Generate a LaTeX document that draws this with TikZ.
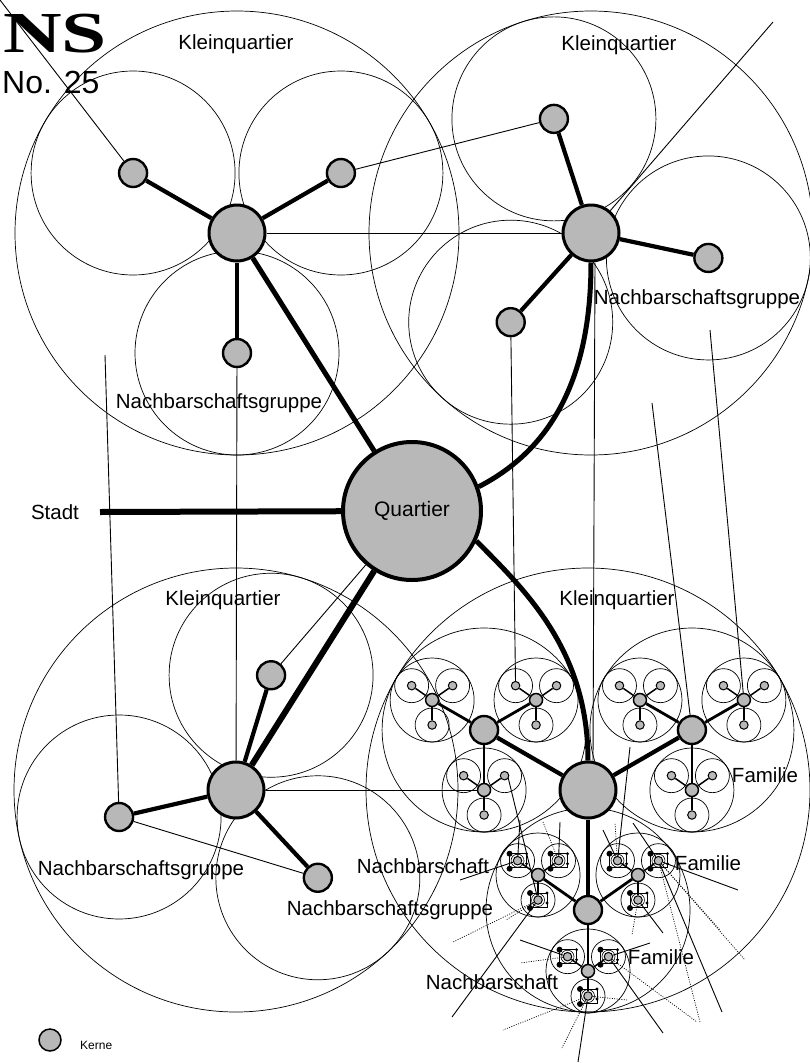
\documentclass[tikz,border=0pt]{standalone}
\usepackage{fontspec}
\setmainfont{Liberation Sans}
\newfontfamily\nsserif{Liberation Serif}
\usetikzlibrary{calc}
\pgfdeclarelayer{bg}
\pgfsetlayers{bg,main}
\definecolor{kern}{gray}{0.72}
\begin{document}
\begin{tikzpicture}[x=1pt,y=-1pt,
  ring/.style={line width=0.7pt},
  link/.style={line width=0.9pt},
  dotl/.style={line width=0.7pt,dash pattern=on 1pt off 1.4pt},
  kq/.style={circle,draw,fill=kern,inner sep=0pt,line width=4pt,minimum size=138pt},
  k1/.style={circle,draw,fill=kern,inner sep=0pt,line width=3pt,minimum size=56pt},
  k2/.style={circle,draw,fill=kern,inner sep=0pt,line width=2.4pt,minimum size=28pt},
  k3/.style={circle,draw,fill=kern,inner sep=0pt,line width=1.5pt,minimum size=13pt},
  k4/.style={circle,draw,fill=kern,inner sep=0pt,line width=1pt,minimum size=8.5pt},
  lab/.style={inner sep=0pt,font=\fontsize{20.5}{24}\selectfont},
  hw/.style={line width=6pt},
  qw/.style={line width=5pt},
  sw/.style={line width=4.2pt},
  mw/.style={line width=2.8pt},
  fw/.style={line width=1.5pt}
]
\useasboundingbox (0,0) rectangle (809,1063);

% ---------- nodes ----------
\node[kq,font=\fontsize{21}{24}\selectfont] (Q) at (412,511) {Quartier};
\node[k1] (TL) at (237,233) {};
\node[k1] (TR) at (591,233) {};
\node[k1] (BL) at (236,790) {};
\node[k1] (BR) at (588,790) {};
\foreach \h/\a/\b/\c in {TL/210/330/90, TR/252/12/132, BL/287/167/47, BR/210/330/90}{
  \node[k2] (\h a) at ($(\h)+(\a:120)$) {};
  \node[k2] (\h b) at ($(\h)+(\b:120)$) {};
  \node[k2] (\h c) at ($(\h)+(\c:120)$) {};
}
\foreach \g/\p/\q/\d in {BRa/210/330/60, BRb/210/330/60, BRc/215/325/61}{
  \foreach \a/\s in {\p/a,\q/b,90/c}{
    \node[k3] (\g\s) at ($(\g)+(\a:\d)$) {};
    \foreach \b/\t in {215/a,325/b,90/c}{
      \node[k4] (\g\s\t) at ($(\g\s)+(\b:25)$) {};
    }
  }
}

% free ends
\coordinate (st) at (100,512);
\coordinate (fe1) at (0,0);
\coordinate (fe2) at (773,22);
\coordinate (fe3) at (105,355);
\coordinate (fe4) at (652,403);
\coordinate (fe5) at (710,330);

\begin{pgfonlayer}{bg}
\fill[white] (0,0) rectangle (809,1063);
% big Kleinquartier circles
\foreach \h in {TL,TR,BL,BR}{
  \draw[ring] (\h) circle[radius=222pt];
  \foreach \s in {a,b,c}{
    \draw[ring] (\h\s) circle[radius=102pt];
    \draw[sw] (\h) -- (\h\s);
  }
}
% Nachbarschaften and Familien
\foreach \g in {BRa,BRb,BRc}{
  \foreach \s in {a,b,c}{
    \draw[ring] (\g\s) circle[radius=42pt];
    \draw[mw] (\g) -- (\g\s);
    \foreach \t in {a,b,c}{
      \draw[ring] (\g\s\t) circle[radius=17pt];
      \draw[fw] (\g\s) -- (\g\s\t);
    }
  }
}
% Quartier links
\draw[hw] (st) -- (Q);
\draw[qw] (Q) -- (TL);
\draw[hw] (Q) -- (BL);
\draw[link] (Q) -- (BLa);
\draw[qw] (TR.south) .. controls (591,380) and (550,450) .. (Q.20);
\draw[qw] (Q.-25) .. controls (525,590) and (588,650) .. (BR.north);
% thin links
\draw[link] (TL) -- (TR);
\draw[link] (TLb) -- (TRa);
\draw[link] (fe1) -- (TLa);
\draw[link] (fe2) -- (TR);
\draw[link] (BLb) -- (BLc);
\draw[link] (BL) -- (BRac);
\draw[link] (TLc) -- (BL);
\draw[link] (fe3) -- (BLb);
\draw[link] ([xshift=4pt]TR.south) -- ([xshift=5pt]BR.north);
\draw[link] (TRc) -- (BRaba);
\draw[link] (fe4) -- (BRb);
\draw[link] (fe5) -- (BRbb);
% radial lines of the lowest Nachbarschaftsgruppe
\foreach \f/\x/\y/\st [count=\i] in {
  BRcac/452/1017/link, BRcac/453/942/dotl, BRcac/507/773/link, BRcac/506/920/dotl,
  BRcaa/460/880/link, BRcaa/520/820/link,
  BRcab/560/822/link, BRcab/543/822/dotl,
  BRcba/603/830/link, BRcba/615/823/dotl, BRcba/630/747/link,
  BRcbb/738/890/link, BRcbb/720/930/dotl, BRcbb/722/1012/link, BRcbb/633/823/link,
  BRcbb/745/960/dotl, BRcbb/700/1022/dotl,
  BRcbc/663/933/link, BRcbc/632/935/dotl,
  BRcca/520/940/link, BRcca/520/963/dotl,
  BRccb/650/943/link, BRccb/663/1033/link, BRccb/697/1022/dotl,
  BRccc/578/1062/link, BRccc/562/1048/dotl, BRccc/503/1030/dotl, BRccc/627/1000/dotl}{
  \coordinate (rad\i) at (\x,\y);
  \draw[\st] (\f) -- (rad\i);
}
\end{pgfonlayer}

% family plans in the lowest group
\foreach \s in {a,b,c}{
  \foreach \t in {a,b,c}{
    \draw[line width=0.6pt] (BRc\s\t) circle[radius=6.5pt];
    \draw[line width=0.8pt] ($(BRc\s\t)+(-8,-7)$) rectangle ($(BRc\s\t)+(9,7)$);
    \fill ($(BRc\s\t)+(-8,-7)$) circle[radius=3pt];
    \fill ($(BRc\s\t)+(-8,8)$) circle[radius=3pt];
    \fill ($(BRc\s\t)+(9,-7)$) circle[radius=1.6pt];
    \fill ($(BRc\s\t)+(9,3)$) circle[radius=1.6pt];
  }
}

% ---------- labels ----------
\node[lab] (l1) at (236,44) {Kleinquartier};
\node[lab] (l2) at (619,45) {Kleinquartier};
\node[lab] (l3) at (219,403) {Nachbarschaftsgruppe};
\node[lab] (l4) at (697,299) {Nachbarschaftsgruppe};
\node[lab] (l5) at (55,512) {Stadt};
\node[lab] (l6) at (223,600) {Kleinquartier};
\node[lab] (l7) at (617,600) {Kleinquartier};
\node[lab] (l8) at (141,870) {Nachbarschaftsgruppe};
\node[lab] (l9) at (390,910) {Nachbarschaftsgruppe};
\node[lab] (l10) at (765,775) {Familie};
\node[lab] (l11) at (423,866) {Nachbarschaft};
\node[lab] (l12) at (708,863) {Familie};
\node[lab] (l13) at (661,957) {Familie};
\node[lab] (l14) at (492,982) {Nachbarschaft};

% title and legend
\node[anchor=base west,inner sep=0pt,font=\nsserif\bfseries\fontsize{58}{58}\selectfont] (ns) at (3,52) {\scalebox{1.4}[1]{NS}};
\node[anchor=base west,inner sep=0pt,font=\fontsize{32}{32}\selectfont] (no) at (2,93) {No. 25};
\node[circle,draw,fill=kern,inner sep=0pt,line width=1.5pt,minimum size=22pt] (leg) at (50,1040) {};
\node[anchor=west,inner sep=0pt,font=\fontsize{12}{14}\selectfont] (legt) at (80,1045) {Kerne};
\end{tikzpicture}
\end{document}
